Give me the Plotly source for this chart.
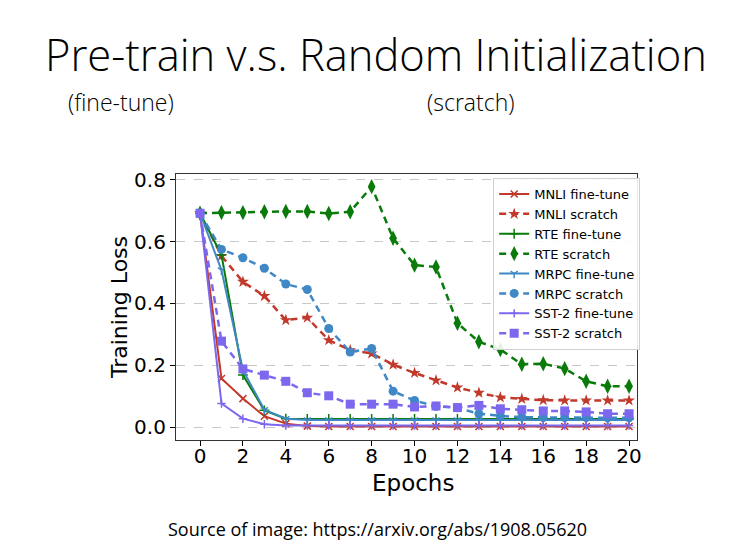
import plotly.graph_objects as go

epochs = list(range(21))

mnli_fine = [0.692, 0.157, 0.092, 0.035, 0.011, 0.003, 0.002, 0.002, 0.002, 0.002, 0.002,
             0.002, 0.002, 0.002, 0.002, 0.002, 0.002, 0.002, 0.002, 0.002, 0.002]
mnli_scratch = [0.692, 0.554, 0.470, 0.424, 0.346, 0.354, 0.281, 0.249, 0.238, 0.202, 0.175,
                0.151, 0.128, 0.111, 0.096, 0.091, 0.087, 0.086, 0.086, 0.086, 0.086]
rte_fine = [0.692, 0.557, 0.168, 0.054, 0.027, 0.026, 0.026, 0.026, 0.026, 0.026, 0.026,
            0.026, 0.026, 0.026, 0.026, 0.026, 0.026, 0.026, 0.026, 0.026, 0.026]
rte_scratch = [0.692, 0.694, 0.694, 0.697, 0.698, 0.698, 0.691, 0.697, 0.778, 0.611, 0.524,
               0.518, 0.336, 0.276, 0.251, 0.203, 0.205, 0.189, 0.148, 0.132, 0.132]
mrpc_fine = [0.692, 0.508, 0.184, 0.056, 0.027, 0.023, 0.023, 0.023, 0.023, 0.023, 0.023,
             0.023, 0.023, 0.023, 0.023, 0.023, 0.023, 0.023, 0.023, 0.023, 0.023]
mrpc_scratch = [0.692, 0.575, 0.548, 0.514, 0.463, 0.445, 0.319, 0.243, 0.254, 0.116, 0.086,
                0.067, 0.062, 0.043, 0.036, 0.032, 0.031, 0.031, 0.031, 0.030, 0.030]
sst2_fine = [0.692, 0.076, 0.027, 0.009, 0.005, 0.005, 0.005, 0.005, 0.005, 0.005, 0.005,
             0.005, 0.005, 0.005, 0.005, 0.005, 0.005, 0.005, 0.005, 0.005, 0.005]
sst2_scratch = [0.692, 0.278, 0.188, 0.168, 0.148, 0.111, 0.101, 0.074, 0.074, 0.074, 0.065,
                0.068, 0.063, 0.070, 0.059, 0.056, 0.052, 0.052, 0.049, 0.043, 0.043]

y_ticks = [0.0, 0.2, 0.4, 0.6, 0.8]
x_ticks = list(range(0, 21, 2))

RED = "#c0392b"
GREEN = "#0a7a0a"
BLUE = "#3f88c5"
PURPLE = "#7b68ee"
DASH = "7px,5px"

series = [
    ("MNLI fine-tune", mnli_fine, RED, "solid", "x-thin", 7, 2),
    ("MNLI scratch", mnli_scratch, RED, DASH, "star", 9, 2.5),
    ("RTE fine-tune", rte_fine, GREEN, "solid", "cross-thin", 7, 2),
    ("RTE scratch", rte_scratch, GREEN, DASH, "diamond-tall", 11, 2.5),
    ("MRPC fine-tune", mrpc_fine, BLUE, "solid", "y-down", 6, 2),
    ("MRPC scratch", mrpc_scratch, BLUE, DASH, "circle", 9, 2.5),
    ("SST-2 fine-tune", sst2_fine, PURPLE, "solid", "cross-thin", 6, 2),
    ("SST-2 scratch", sst2_scratch, PURPLE, DASH, "square", 9, 2.5),
]

fig = go.Figure()
for name, vals, color, dash, sym, size, lw in series:
    thin = sym in ("x-thin", "cross-thin", "y-down")
    fig.add_trace(go.Scatter(
        x=epochs, y=vals, name=name, mode="lines+markers",
        line=dict(color=color, width=lw, dash=dash),
        marker=dict(symbol=sym, size=size, color=color,
                    line=dict(color=color, width=1.5 if thin else 0)),
    ))

fig.update_layout(
    width=735, height=551,
    paper_bgcolor="white", plot_bgcolor="white",
    margin=dict(l=176, r=98, t=174, b=111),
    font=dict(family="DejaVu Sans", color="black"),
    showlegend=True,
    legend=dict(x=0.688, y=0.985, xanchor="left", yanchor="top",
                bgcolor="rgba(255,255,255,0.9)", bordercolor="#d0d0d0", borderwidth=1,
                font=dict(size=13, family="DejaVu Sans"), tracegroupgap=0),
)
fig.update_xaxes(
    range=[-1.12, 20.37], tickmode="array", tickvals=x_ticks,
    ticks="outside", ticklen=5, tickcolor="black", tickfont=dict(size=20),
    ticklabelstandoff=-7,
    showgrid=False, zeroline=False, showline=True, linecolor="#333", linewidth=1.2, mirror=True,
)
fig.update_yaxes(
    range=[-0.042, 0.819], tickmode="array", tickvals=y_ticks, ticktext=[f"{v:.1f}" for v in y_ticks],
    ticks="outside", ticklen=5, tickcolor="black", tickfont=dict(size=20),
    showgrid=True, gridcolor="#c8c8c8", griddash="dash", gridwidth=1,
    zeroline=False, showline=True, linecolor="#333", linewidth=1.2, mirror=True,
    title=dict(text="Training Loss", font=dict(size=22), standoff=0),
)

fig.add_annotation(text="Epochs", xref="paper", yref="paper",
                   x=(413 - 176) / 461, y=(440 - 483) / 266, xanchor="center", yanchor="middle",
                   showarrow=False, font=dict(family="DejaVu Sans", size=23, color="black"))
fig.add_annotation(text="Pre-train v.s. Random Initialization", xref="paper", yref="paper",
                   x=(376 - 176) / 461, y=(440 - 55) / 266, xanchor="center", yanchor="middle",
                   showarrow=False, font=dict(family="Open Sans", size=43.5, color="black", weight=300))
fig.add_annotation(text="(fine-tune)", xref="paper", yref="paper",
                   x=(121 - 176) / 461, y=(440 - 102) / 266, xanchor="center", yanchor="middle",
                   showarrow=False, font=dict(family="Open Sans", size=23, color="black", weight=300))
fig.add_annotation(text="(scratch)", xref="paper", yref="paper",
                   x=(471 - 176) / 461, y=(440 - 102) / 266, xanchor="center", yanchor="middle",
                   showarrow=False, font=dict(family="Open Sans", size=23, color="black", weight=300))
fig.add_annotation(text="Source of image: https://arxiv.org/abs/1908.05620", xref="paper", yref="paper",
                   x=(377 - 176) / 461, y=(440 - 529) / 266, xanchor="center", yanchor="middle",
                   showarrow=False, font=dict(family="Open Sans", size=18, color="black"))

fig.write_html("out.html", config={"displayModeBar": False},
               post_script="document.body.style.margin='0';")
